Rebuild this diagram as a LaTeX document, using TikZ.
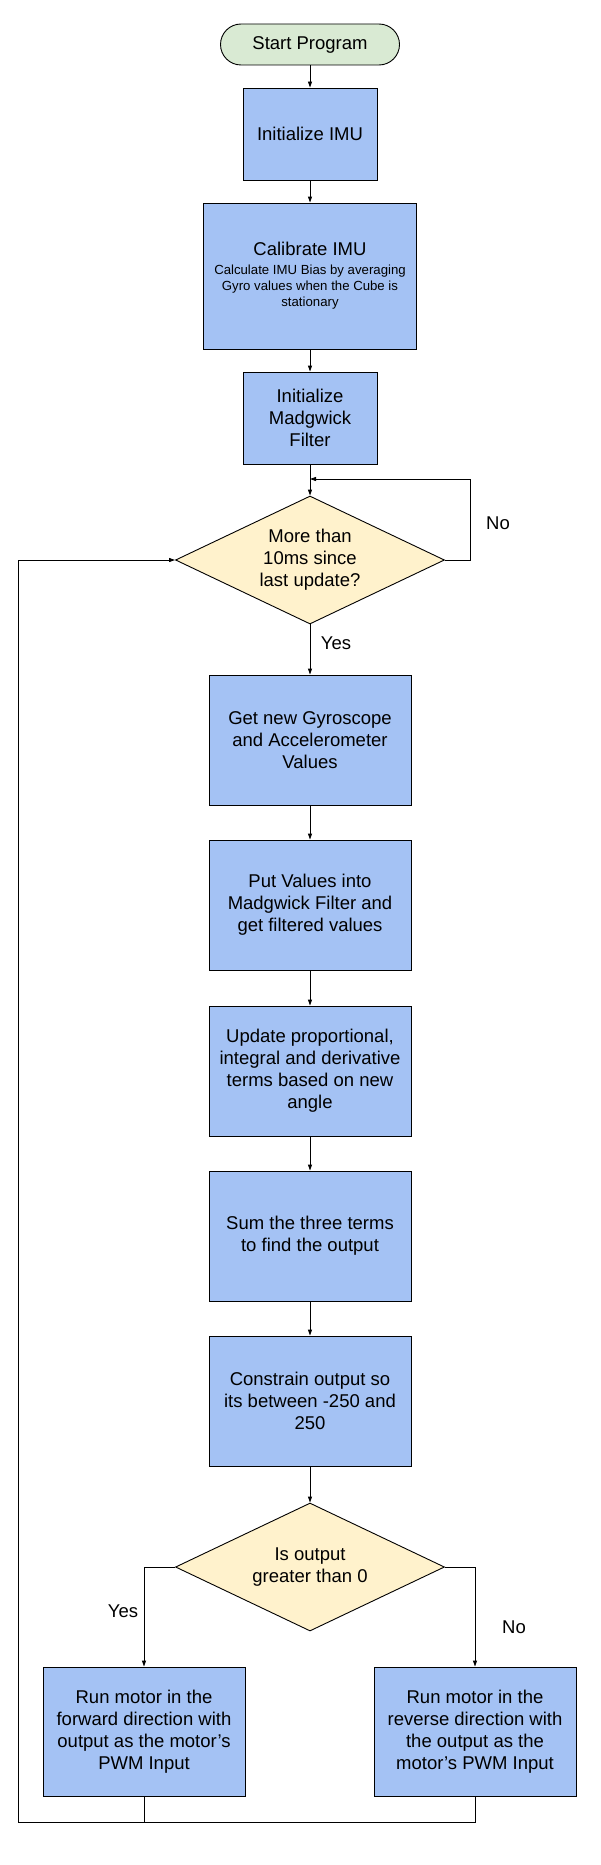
\documentclass[tikz,border=0pt]{standalone}
\usepackage{fontspec}
\setmainfont{Liberation Sans}
\usetikzlibrary{shapes.geometric,arrows.meta}
\definecolor{boxblue}{HTML}{A4C2F4}
\definecolor{startgreen}{HTML}{D9EAD3}
\definecolor{decyellow}{HTML}{FFF2CC}
\begin{document}
\begin{tikzpicture}[x=1pt,y=-1pt,
  base/.style={font=\fontsize{18.5}{22}\selectfont, align=center, inner sep=0pt, line width=0.9pt, draw=black, text=black},
  procbox/.style={base, rectangle, fill=boxblue, minimum width=202pt, minimum height=130pt},
  smallbox/.style={base, rectangle, fill=boxblue, minimum width=134pt, minimum height=92pt},
  startbox/.style={base, rectangle, rounded corners=20.5pt, fill=startgreen, minimum width=179pt, minimum height=41pt},
  decision/.style={base, diamond, aspect=2.1, fill=decyellow, minimum width=269pt, minimum height=128pt},
  arr/.style={line width=0.9pt, -{Triangle[length=6pt,width=4pt]}},
  plain/.style={line width=0.9pt},
  lbl/.style={font=\fontsize{18.5}{22}\selectfont, inner sep=0pt}
]
\fill[white] (0,0) rectangle (601,1865);
\useasboundingbox (0,0) rectangle (601,1865);

\node[startbox] (start) at (310,44.5) {Start Program};
\node[smallbox] (initimu) at (310,134) {Initialize IMU};
\node[base, rectangle, fill=boxblue, minimum width=213pt, minimum height=146pt, font=\fontsize{13.2}{16}\selectfont] (calib) at (310,276)
  {{\fontsize{18.5}{22}\selectfont Calibrate IMU}\\[3pt]Calculate IMU Bias by averaging\\Gyro values when the Cube is\\stationary};
\node[smallbox] (madg) at (310,418) {Initialize\\Madgwick\\Filter};
\node[decision] (d1) at (310,560) {More than\\10ms since\\last update?};
\node[procbox] (get) at (310,740) {Get new Gyroscope\\and Accelerometer\\Values};
\node[procbox] (put) at (310,905) {Put Values into\\Madgwick Filter and\\get filtered values};
\node[procbox] (upd) at (310,1071) {Update proportional,\\integral and derivative\\terms based on new\\angle};
\node[procbox] (sum) at (310,1236) {Sum the three terms\\to find the output};
\node[procbox] (con) at (310,1401) {Constrain output so\\its between -250 and\\250};
\node[decision] (d2) at (310,1567) {Is output\\greater than 0};
\node[procbox, minimum height=129pt] (lbox) at (144,1731.5) {Run motor in the\\forward direction with\\output as the motor’s\\PWM Input};
\node[procbox, minimum height=129pt] (rbox) at (475,1731.5) {Run motor in the\\reverse direction with\\the output as the\\motor’s PWM Input};

\coordinate (noturn) at (470,479);
\coordinate (bot) at (18,1822);

\draw[arr] (start) -- (initimu);
\draw[arr] (initimu) -- (calib);
\draw[arr] (calib) -- (madg);
\draw[arr] (madg) -- (d1);
\draw[arr] (d1.east) -| (noturn) -- (madg.south |- noturn);
\draw[arr] (d1) -- (get);
\draw[arr] (get) -- (put);
\draw[arr] (put) -- (upd);
\draw[arr] (upd) -- (sum);
\draw[arr] (sum) -- (con);
\draw[arr] (con) -- (d2);
\draw[arr] (d2.west) -| (lbox.north);
\draw[arr] (d2.east) -| (rbox.north);
\draw[plain] (lbox.south) -- (lbox.south |- bot);
\draw[arr] (rbox.south) |- (bot) |- (d1.west);

\node[lbl] (no1) at (498,523) {No};
\node[lbl] (yes1) at (336,643) {Yes};
\node[lbl] (yes2) at (123,1611) {Yes};
\node[lbl] (no2) at (514,1627) {No};
\end{tikzpicture}
\end{document}
